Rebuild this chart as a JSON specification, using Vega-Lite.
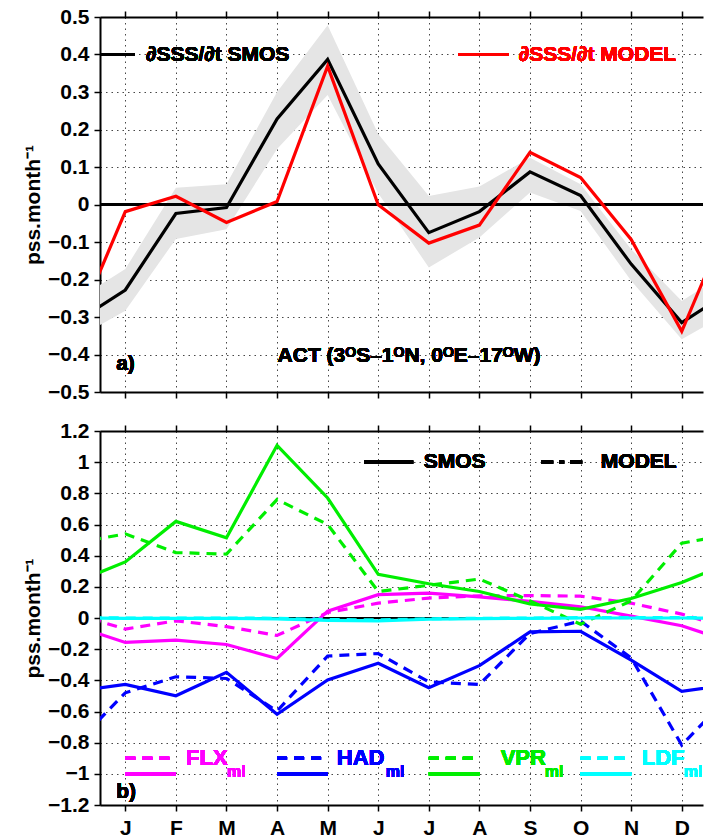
{
  "$schema": "https://vega.github.io/schema/vega-lite/v6.json",
  "background": "white",
  "padding": {"left": 22, "top": 6, "right": 0, "bottom": 0},
  "spacing": 18,
  "config": {
    "font": "Liberation Sans",
    "view": {"stroke": null},
    "axis": {
      "labelFont": "Liberation Sans", "labelFontWeight": "bold", "labelFontSize": 21, "labelColor": "black",
      "titleFont": "Liberation Sans", "titleFontWeight": "bold", "titleFontSize": 21, "titleColor": "black",
      "domainColor": "black", "domainWidth": 2, "tickColor": "black", "tickSize": 6, "tickWidth": 1.5,
      "gridColor": "#333333", "gridDash": [1.5, 4], "gridWidth": 1, "gridOpacity": 0.9
    },
    "text": {"font": "Liberation Sans", "fontWeight": "bold", "fontSize": 21, "baseline": "middle", "align": "left"}
  },
  "datasets": {
    "top": [
      {"m": 0, "smos": -0.315, "model": -0.338, "lo": -0.359, "hi": -0.257},
      {"m": 1, "smos": -0.228, "model": -0.019, "lo": -0.283, "hi": -0.172},
      {"m": 2, "smos": -0.024, "model": 0.022, "lo": -0.092, "hi": 0.045},
      {"m": 3, "smos": -0.008, "model": -0.048, "lo": -0.066, "hi": 0.054},
      {"m": 4, "smos": 0.228, "model": 0.008, "lo": 0.148, "hi": 0.30},
      {"m": 5, "smos": 0.387, "model": 0.369, "lo": 0.292, "hi": 0.478},
      {"m": 6, "smos": 0.108, "model": -0.001, "lo": 0.03, "hi": 0.188},
      {"m": 7, "smos": -0.075, "model": -0.103, "lo": -0.168, "hi": 0.023},
      {"m": 8, "smos": -0.019, "model": -0.055, "lo": -0.088, "hi": 0.048},
      {"m": 9, "smos": 0.087, "model": 0.139, "lo": 0.032, "hi": 0.125},
      {"m": 10, "smos": 0.024, "model": 0.072, "lo": -0.017, "hi": 0.054},
      {"m": 11, "smos": -0.159, "model": -0.093, "lo": -0.203, "hi": -0.119},
      {"m": 12, "smos": -0.315, "model": -0.338, "lo": -0.359, "hi": -0.257},
      {"m": 13, "smos": -0.228, "model": -0.019, "lo": -0.283, "hi": -0.172}
    ],
    "bot": [
      {"m": 0, "flx_s": -0.05, "flx_m": 0.025, "had_s": -0.47, "had_m": -0.815, "vpr_s": 0.228, "vpr_m": 0.48, "ldf_s": 0, "ldf_m": 0.003},
      {"m": 1, "flx_s": -0.157, "flx_m": -0.071, "had_s": -0.426, "had_m": -0.48, "vpr_s": 0.36, "vpr_m": 0.54, "ldf_s": -0.002, "ldf_m": 0},
      {"m": 2, "flx_s": -0.142, "flx_m": -0.018, "had_s": -0.499, "had_m": -0.377, "vpr_s": 0.62, "vpr_m": 0.42, "ldf_s": -0.002, "ldf_m": 0},
      {"m": 3, "flx_s": -0.17, "flx_m": -0.055, "had_s": -0.349, "had_m": -0.388, "vpr_s": 0.515, "vpr_m": 0.41, "ldf_s": -0.003, "ldf_m": 0},
      {"m": 4, "flx_s": -0.26, "flx_m": -0.112, "had_s": -0.618, "had_m": -0.597, "vpr_s": 1.108, "vpr_m": 0.76, "ldf_s": -0.005, "ldf_m": -0.002},
      {"m": 5, "flx_s": 0.044, "flx_m": 0.035, "had_s": -0.398, "had_m": -0.244, "vpr_s": 0.77, "vpr_m": 0.6, "ldf_s": -0.015, "ldf_m": -0.01},
      {"m": 6, "flx_s": 0.15, "flx_m": 0.095, "had_s": -0.29, "had_m": -0.228, "vpr_s": 0.28, "vpr_m": 0.17, "ldf_s": -0.018, "ldf_m": -0.012},
      {"m": 7, "flx_s": 0.16, "flx_m": 0.128, "had_s": -0.447, "had_m": -0.41, "vpr_s": 0.22, "vpr_m": 0.21, "ldf_s": -0.008, "ldf_m": -0.005},
      {"m": 8, "flx_s": 0.136, "flx_m": 0.142, "had_s": -0.306, "had_m": -0.427, "vpr_s": 0.17, "vpr_m": 0.25, "ldf_s": -0.004, "ldf_m": -0.002},
      {"m": 9, "flx_s": 0.107, "flx_m": 0.144, "had_s": -0.089, "had_m": -0.099, "vpr_s": 0.09, "vpr_m": 0.11, "ldf_s": -0.002, "ldf_m": 0},
      {"m": 10, "flx_s": 0.072, "flx_m": 0.14, "had_s": -0.085, "had_m": -0.02, "vpr_s": 0.055, "vpr_m": -0.04, "ldf_s": 0, "ldf_m": 0.002},
      {"m": 11, "flx_s": 0.012, "flx_m": 0.095, "had_s": -0.271, "had_m": -0.256, "vpr_s": 0.125, "vpr_m": 0.11, "ldf_s": 0, "ldf_m": 0.002},
      {"m": 12, "flx_s": -0.05, "flx_m": 0.025, "had_s": -0.47, "had_m": -0.815, "vpr_s": 0.228, "vpr_m": 0.48, "ldf_s": 0, "ldf_m": 0.003},
      {"m": 13, "flx_s": -0.157, "flx_m": -0.071, "had_s": -0.426, "had_m": -0.48, "vpr_s": 0.36, "vpr_m": 0.54, "ldf_s": -0.002, "ldf_m": 0}
    ]
  },
  "vconcat": [
    {
      "width": 603, "height": 375,
      "data": {"name": "top"},
      "resolve": {"axis": {"x": "independent", "y": "independent"}},
      "layer": [
        {
          "mark": {"type": "area", "color": "#e5e5e5", "clip": true},
          "encoding": {
            "x": {"field": "m", "type": "quantitative", "scale": {"domain": [0.5, 12.42], "nice": false, "zero": false},
                  "axis": {"orient": "top", "values": [1,2,3,4,5,6,7,8,9,10,11,12], "labels": false, "grid": false, "title": null}},
            "y": {"field": "lo", "type": "quantitative", "scale": {"domain": [-0.5, 0.5], "nice": false, "zero": false},
                  "axis": {"values": [-0.5,-0.4,-0.3,-0.2,-0.1,0,0.1,0.2,0.3,0.4,0.5], "format": ".1~f", "grid": true, "labelPadding": 5,
                           "title": "pss.month⁻¹", "titleX": -61, "titleY": 187.5, "titleAngle": -90, "titleBaseline": "alphabetic", "titleAlign": "center"}},
            "y2": {"field": "hi"}
          }
        },
        {
          "mark": {"type": "rule", "color": "black", "strokeWidth": 2},
          "encoding": {"y": {"datum": 0, "type": "quantitative", "axis": null}}
        },
        {
          "mark": {"type": "line", "color": "black", "strokeWidth": 3.2, "clip": true},
          "encoding": {
            "x": {"field": "m", "type": "quantitative", "axis": {"orient": "bottom", "values": [1,2,3,4,5,6,7,8,9,10,11,12], "labels": false, "grid": true, "title": null}},
            "y": {"field": "smos", "type": "quantitative", "axis": null}
          }
        },
        {
          "mark": {"type": "line", "color": "#ff0000", "strokeWidth": 3.2, "clip": true},
          "encoding": {
            "x": {"field": "m", "type": "quantitative", "axis": null},
            "y": {"field": "model", "type": "quantitative", "axis": null}
          }
        },
        {
          "mark": {"type": "rule", "color": "black", "strokeWidth": 3.2},
          "encoding": {"x": {"datum": 0.5, "type": "quantitative", "axis": null}, "x2": {"datum": 1.19}, "y": {"datum": 0.4, "type": "quantitative", "axis": null}}
        },
        {
          "mark": {"type": "text", "color": "black", "text": "∂SSS/∂t SMOS"},
          "encoding": {"x": {"datum": 1.41, "type": "quantitative", "axis": null}, "y": {"datum": 0.4, "type": "quantitative", "axis": null}}
        },
        {
          "mark": {"type": "rule", "color": "#ff0000", "strokeWidth": 3.2},
          "encoding": {"x": {"datum": 7.59, "type": "quantitative", "axis": null}, "x2": {"datum": 8.58}, "y": {"datum": 0.4, "type": "quantitative", "axis": null}}
        },
        {
          "mark": {"type": "text", "color": "#ff0000", "text": "∂SSS/∂t MODEL"},
          "encoding": {"x": {"datum": 8.78, "type": "quantitative", "axis": null}, "y": {"datum": 0.4, "type": "quantitative", "axis": null}}
        },
        {
          "mark": {"type": "text", "color": "black", "text": "a)"},
          "encoding": {"x": {"datum": 0.82, "type": "quantitative", "axis": null}, "y": {"datum": -0.425, "type": "quantitative", "axis": null}}
        },
        {
          "mark": {"type": "text", "color": "black", "text": "ACT (3ᴼS–1ᴼN, 0ᴼE–17ᴼW)", "align": "center"},
          "encoding": {"x": {"datum": 6.61, "type": "quantitative", "axis": null}, "y": {"datum": -0.405, "type": "quantitative", "axis": null}}
        }
      ]
    },
    {
      "width": 603, "height": 374,
      "data": {"name": "bot"},
      "resolve": {"axis": {"x": "independent", "y": "independent"}},
      "layer": [
        {
          "mark": {"type": "rule", "color": "black", "strokeWidth": 2},
          "encoding": {
            "y": {"datum": 0, "type": "quantitative", "scale": {"domain": [-1.2, 1.2], "nice": false, "zero": false},
                  "axis": {"values": [-1.2,-1,-0.8,-0.6,-0.4,-0.2,0,0.2,0.4,0.6,0.8,1,1.2], "format": ".1~f", "grid": true, "labelPadding": 5,
                           "title": "pss.month⁻¹", "titleX": -61, "titleY": 187, "titleAngle": -90, "titleBaseline": "alphabetic", "titleAlign": "center"}}
          }
        },
        {
          "mark": {"type": "line", "color": "#ff00ff", "strokeWidth": 3.2, "strokeDash": [10, 7], "clip": true},
          "encoding": {
            "x": {"field": "m", "type": "quantitative", "scale": {"domain": [0.5, 12.42], "nice": false, "zero": false},
                  "axis": {"orient": "bottom", "values": [1,2,3,4,5,6,7,8,9,10,11,12], "grid": true, "title": null, "labelPadding": 6,
                           "labelExpr": "['J','F','M','A','M','J','J','A','S','O','N','D'][datum.value - 1]"}},
            "y": {"field": "flx_m", "type": "quantitative", "axis": null}
          }
        },
        {
          "mark": {"type": "line", "color": "#ff00ff", "strokeWidth": 3.2, "clip": true},
          "encoding": {
            "x": {"field": "m", "type": "quantitative", "axis": {"orient": "top", "values": [1,2,3,4,5,6,7,8,9,10,11,12], "labels": false, "grid": false, "title": null}},
            "y": {"field": "flx_s", "type": "quantitative", "axis": null}
          }
        },
        {
          "mark": {"type": "line", "color": "#0000ff", "strokeWidth": 3.2, "strokeDash": [10, 7], "clip": true},
          "encoding": {"x": {"field": "m", "type": "quantitative", "axis": null}, "y": {"field": "had_m", "type": "quantitative", "axis": null}}
        },
        {
          "mark": {"type": "line", "color": "#0000ff", "strokeWidth": 3.2, "clip": true},
          "encoding": {"x": {"field": "m", "type": "quantitative", "axis": null}, "y": {"field": "had_s", "type": "quantitative", "axis": null}}
        },
        {
          "mark": {"type": "line", "color": "#00ee00", "strokeWidth": 3.2, "strokeDash": [10, 7], "clip": true},
          "encoding": {"x": {"field": "m", "type": "quantitative", "axis": null}, "y": {"field": "vpr_m", "type": "quantitative", "axis": null}}
        },
        {
          "mark": {"type": "line", "color": "#00ee00", "strokeWidth": 3.2, "clip": true},
          "encoding": {"x": {"field": "m", "type": "quantitative", "axis": null}, "y": {"field": "vpr_s", "type": "quantitative", "axis": null}}
        },
        {
          "mark": {"type": "line", "color": "#00ffff", "strokeWidth": 3.2, "strokeDash": [10, 7], "clip": true},
          "encoding": {"x": {"field": "m", "type": "quantitative", "axis": null}, "y": {"field": "ldf_m", "type": "quantitative", "axis": null}}
        },
        {
          "mark": {"type": "line", "color": "#00ffff", "strokeWidth": 3.2, "clip": true},
          "encoding": {"x": {"field": "m", "type": "quantitative", "axis": null}, "y": {"field": "ldf_s", "type": "quantitative", "axis": null}}
        },
        {
          "mark": {"type": "rule", "color": "black", "strokeWidth": 3.2},
          "encoding": {"x": {"datum": 5.72, "type": "quantitative", "axis": null}, "x2": {"datum": 6.69}, "y": {"datum": 1.0, "type": "quantitative", "axis": null}}
        },
        {
          "mark": {"type": "text", "color": "black", "text": "SMOS"},
          "encoding": {"x": {"datum": 6.9, "type": "quantitative", "axis": null}, "y": {"datum": 1.0, "type": "quantitative", "axis": null}}
        },
        {
          "mark": {"type": "rule", "color": "black", "strokeWidth": 3.2, "strokeDash": [12, 6, 5, 6]},
          "encoding": {"x": {"datum": 9.22, "type": "quantitative", "axis": null}, "x2": {"datum": 10.12}, "y": {"datum": 1.0, "type": "quantitative", "axis": null}}
        },
        {
          "mark": {"type": "text", "color": "black", "text": "MODEL"},
          "encoding": {"x": {"datum": 10.4, "type": "quantitative", "axis": null}, "y": {"datum": 1.0, "type": "quantitative", "axis": null}}
        },
        {
          "mark": {"type": "rule", "color": "#ff00ff", "strokeWidth": 3.2, "strokeDash": [10, 7]},
          "encoding": {"x": {"datum": 1, "type": "quantitative", "axis": null}, "x2": {"datum": 2}, "y": {"datum": -0.9, "type": "quantitative", "axis": null}}
        },
        {
          "mark": {"type": "rule", "color": "#ff00ff", "strokeWidth": 3.2},
          "encoding": {"x": {"datum": 1, "type": "quantitative", "axis": null}, "x2": {"datum": 2}, "y": {"datum": -1.0, "type": "quantitative", "axis": null}}
        },
        {
          "mark": {"type": "text", "color": "#ff00ff", "text": "FLX", "fontSize": 22},
          "encoding": {"x": {"datum": 2.2, "type": "quantitative", "axis": null}, "y": {"datum": -0.9, "type": "quantitative", "axis": null}}
        },
        {
          "mark": {"type": "text", "color": "#ff00ff", "text": "ml", "fontSize": 16},
          "encoding": {"x": {"datum": 3.01, "type": "quantitative", "axis": null}, "y": {"datum": -0.99, "type": "quantitative", "axis": null}}
        },
        {
          "mark": {"type": "rule", "color": "#0000ff", "strokeWidth": 3.2, "strokeDash": [10, 7]},
          "encoding": {"x": {"datum": 4, "type": "quantitative", "axis": null}, "x2": {"datum": 5}, "y": {"datum": -0.9, "type": "quantitative", "axis": null}}
        },
        {
          "mark": {"type": "rule", "color": "#0000ff", "strokeWidth": 3.2},
          "encoding": {"x": {"datum": 4, "type": "quantitative", "axis": null}, "x2": {"datum": 5}, "y": {"datum": -1.0, "type": "quantitative", "axis": null}}
        },
        {
          "mark": {"type": "text", "color": "#0000ff", "text": "HAD", "fontSize": 22},
          "encoding": {"x": {"datum": 5.18, "type": "quantitative", "axis": null}, "y": {"datum": -0.9, "type": "quantitative", "axis": null}}
        },
        {
          "mark": {"type": "text", "color": "#0000ff", "text": "ml", "fontSize": 16},
          "encoding": {"x": {"datum": 6.15, "type": "quantitative", "axis": null}, "y": {"datum": -0.99, "type": "quantitative", "axis": null}}
        },
        {
          "mark": {"type": "rule", "color": "#00ee00", "strokeWidth": 3.2, "strokeDash": [10, 7]},
          "encoding": {"x": {"datum": 7, "type": "quantitative", "axis": null}, "x2": {"datum": 8}, "y": {"datum": -0.9, "type": "quantitative", "axis": null}}
        },
        {
          "mark": {"type": "rule", "color": "#00ee00", "strokeWidth": 3.2},
          "encoding": {"x": {"datum": 7, "type": "quantitative", "axis": null}, "x2": {"datum": 8}, "y": {"datum": -1.0, "type": "quantitative", "axis": null}}
        },
        {
          "mark": {"type": "text", "color": "#00ee00", "text": "VPR", "fontSize": 22},
          "encoding": {"x": {"datum": 8.42, "type": "quantitative", "axis": null}, "y": {"datum": -0.9, "type": "quantitative", "axis": null}}
        },
        {
          "mark": {"type": "text", "color": "#00ee00", "text": "ml", "fontSize": 16},
          "encoding": {"x": {"datum": 9.29, "type": "quantitative", "axis": null}, "y": {"datum": -0.99, "type": "quantitative", "axis": null}}
        },
        {
          "mark": {"type": "rule", "color": "#00ffff", "strokeWidth": 3.2, "strokeDash": [10, 7]},
          "encoding": {"x": {"datum": 10, "type": "quantitative", "axis": null}, "x2": {"datum": 11}, "y": {"datum": -0.9, "type": "quantitative", "axis": null}}
        },
        {
          "mark": {"type": "rule", "color": "#00ffff", "strokeWidth": 3.2},
          "encoding": {"x": {"datum": 10, "type": "quantitative", "axis": null}, "x2": {"datum": 11}, "y": {"datum": -1.0, "type": "quantitative", "axis": null}}
        },
        {
          "mark": {"type": "text", "color": "#00ffff", "text": "LDF", "fontSize": 22},
          "encoding": {"x": {"datum": 11.21, "type": "quantitative", "axis": null}, "y": {"datum": -0.9, "type": "quantitative", "axis": null}}
        },
        {
          "mark": {"type": "text", "color": "#00ffff", "text": "ml", "fontSize": 16, "clip": true},
          "encoding": {"x": {"datum": 12.04, "type": "quantitative", "axis": null}, "y": {"datum": -0.99, "type": "quantitative", "axis": null}}
        },
        {
          "mark": {"type": "text", "color": "black", "text": "b)"},
          "encoding": {"x": {"datum": 0.82, "type": "quantitative", "axis": null}, "y": {"datum": -1.114, "type": "quantitative", "axis": null}}
        }
      ]
    }
  ]
}
